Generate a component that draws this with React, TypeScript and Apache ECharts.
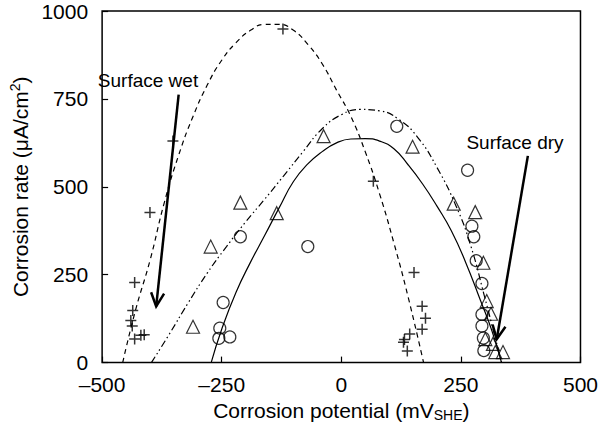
import React, { useEffect, useRef } from "react";
import * as echarts from "echarts";

// "+" markers (wet-side data)
const wetPotential = [-400, -432, -436, -440, -437, -432, -419, -412, -352, -122, 67, 152, 169, 176, 169, 143, 132, 130, 138];
const wetRate = [427, 228, 148, 120, 104, 67, 78, 79, 630, 949, 516, 256, 160, 126, 95, 81, 66, 58, 33];

// triangle markers
const triPotential = [-310, -273, -211, -135, -37, 149, 235, 280, 297, 304, 313, 301, 317, 322, 338];
const triRate = [102, 330, 455, 425, 644, 614, 452, 428, 284, 175, 139, 67, 53, 30, 30];

// circle markers
const cirPotential = [-256, -254, -233, -247, -211, -70, 116, 264, 273, 277, 282, 294, 294, 294, 297, 298];
const cirRate = [69, 98, 73, 171, 358, 330, 672, 547, 388, 358, 290, 225, 137, 104, 70, 34];

// fitted curves
const dashedX = [-457, -430, -400, -370, -340, -310, -280, -250, -220, -190, -160, -130, -100, -70, -40, -10, 20, 50, 80, 110, 140, 172];
const dashedY = [0, 150, 290, 455, 590, 700, 790, 860, 910, 945, 962, 962, 945, 905, 850, 775, 700, 600, 480, 340, 185, 0];

const dashDotX = [-397, -360, -320, -280, -240, -200, -160, -120, -80, -40, 0, 40, 80, 120, 160, 200, 240, 270, 300, 320, 335];
const dashDotY = [0, 80, 170, 255, 330, 400, 465, 532, 600, 665, 705, 720, 716, 692, 640, 555, 445, 335, 185, 80, 0];

const solidX = [-272, -250, -220, -190, -160, -130, -100, -70, -40, -10, 20, 50, 80, 110, 140, 170, 200, 230, 260, 290, 315, 335];
const solidY = [0, 95, 200, 285, 362, 440, 515, 565, 600, 625, 636, 637, 630, 608, 562, 508, 445, 375, 285, 180, 90, 0];

// arrows: [fromX, fromY, toX, toY]
const arrowWet = [-340, 762, -387, 160];
const arrowDry = [390, 588, 325, 67];

const xTicks = [-500, -250, 0, 250, 500];
const yTicks = [0, 250, 500, 750, 1000];

const FONT = "Liberation Sans, Arial, Helvetica, sans-serif";
const FS = 21;

const zip = (xs: number[], ys: number[]) => xs.map((x, i) => [x, ys[i]]);

export default function App() {
  const ref = useRef<HTMLDivElement>(null);
  useEffect(() => {
    if (!ref.current) return;
    const chart = echarts.init(ref.current, undefined, { renderer: "svg" });
    const open = { color: "transparent", borderColor: "#000", borderWidth: 1.2 };
    chart.setOption({
      animation: false,
      backgroundColor: "#fff",
      grid: {
        left: 95,
        right: 19,
        top: 11,
        bottom: 58,
        show: true,
        borderColor: "#000",
        borderWidth: 1.5,
        backgroundColor: "transparent",
      },
      xAxis: {
        type: "value",
        min: xTicks[0],
        max: xTicks[xTicks.length - 1],
        interval: 250,
        axisLine: { show: false, onZero: false },
        axisTick: { show: true, inside: true, length: 6, lineStyle: { color: "#000", width: 1.2 } },
        splitLine: { show: false },
        axisLabel: {
          color: "#000",
          fontSize: FS,
          fontFamily: FONT,
          margin: 11,
          formatter: (v: number) => (v < 0 ? "\u2013" + Math.abs(v) : String(v)),
        },
        name: "{a|Corrosion potential (mV}{sub|SHE}{a|)}",
        nameLocation: "middle",
        nameGap: 35,
        nameTextStyle: {
          color: "#000",
          fontFamily: FONT,
          fontSize: FS,
          rich: {
            a: { fontSize: FS, fontFamily: FONT, color: "#000", lineHeight: 24, verticalAlign: "middle" },
            sub: { fontSize: 14, fontFamily: FONT, color: "#000", lineHeight: 24, verticalAlign: "bottom" },
          },
        },
      },
      yAxis: {
        type: "value",
        min: yTicks[0],
        max: yTicks[yTicks.length - 1],
        interval: 250,
        axisLine: { show: false, onZero: false },
        axisTick: { show: true, inside: true, length: 6, lineStyle: { color: "#000", width: 1.2 } },
        splitLine: { show: false },
        axisLabel: { color: "#000", fontSize: FS, fontFamily: FONT, margin: 14, formatter: (v: number) => String(v) },
        name: "{a|Corrosion rate (\u03bcA/cm}{sup|2}{a|)}",
        nameLocation: "middle",
        nameGap: 62,
        nameTextStyle: {
          color: "#000",
          fontFamily: FONT,
          fontSize: FS,
          rich: {
            a: { fontSize: FS, fontFamily: FONT, color: "#000", lineHeight: 24, verticalAlign: "middle" },
            sup: { fontSize: 14, fontFamily: FONT, color: "#000", lineHeight: 24, verticalAlign: "top" },
          },
        },
      },
      graphic: [
        {
          type: "text",
          x: 148,
          y: 80,
          style: { text: "Surface wet", fontSize: 19, fontFamily: FONT, fill: "#000", align: "center", verticalAlign: "middle" },
        },
        {
          type: "text",
          x: 515,
          y: 142,
          style: { text: "Surface dry", fontSize: 19, fontFamily: FONT, fill: "#000", align: "center", verticalAlign: "middle" },
        },
      ],
      series: [
        {
          type: "line",
          data: zip(dashedX, dashedY),
          smooth: 0.5,
          showSymbol: false,
          lineStyle: { color: "#000", width: 1.2, type: [5, 4] },
          silent: true,
        },
        {
          type: "line",
          data: zip(dashDotX, dashDotY),
          smooth: 0.5,
          showSymbol: false,
          lineStyle: { color: "#000", width: 1.2, type: [7, 3, 1.5, 3, 1.5, 3] },
          silent: true,
        },
        {
          type: "line",
          data: zip(solidX, solidY),
          smooth: 0.5,
          showSymbol: false,
          lineStyle: { color: "#000", width: 1.2 },
          silent: true,
        },
        {
          type: "scatter",
          data: zip(wetPotential, wetRate),
          symbol: "path://M5,0 L5,10 M0,5 L10,5",
          symbolSize: 11,
          itemStyle: { color: "transparent", borderColor: "#000", borderWidth: 1.5 },
        },
        {
          type: "scatter",
          data: zip(triPotential, triRate),
          symbol: "triangle",
          symbolSize: 13,
          itemStyle: open,
        },
        {
          type: "scatter",
          data: zip(cirPotential, cirRate),
          symbol: "circle",
          symbolSize: 12,
          itemStyle: open,
        },
        {
          type: "custom",
          data: [arrowWet, arrowDry],
          silent: true,
          renderItem: (_params: any, api: any) => {
            const p1 = api.coord([api.value(0), api.value(1)]);
            const p2 = api.coord([api.value(2), api.value(3)]);
            const ang = Math.atan2(p2[1] - p1[1], p2[0] - p1[0]);
            const L = 15;
            const a = 0.45;
            const h1 = [p2[0] - L * Math.cos(ang - a), p2[1] - L * Math.sin(ang - a)];
            const h2 = [p2[0] - L * Math.cos(ang + a), p2[1] - L * Math.sin(ang + a)];
            return {
              type: "group",
              children: [
                { type: "line", shape: { x1: p1[0], y1: p1[1], x2: p2[0], y2: p2[1] }, style: { stroke: "#000", lineWidth: 2.5 } },
                { type: "polyline", shape: { points: [h1, p2, h2] }, style: { stroke: "#000", lineWidth: 2.5, fill: "none" } },
              ],
            };
          },
        },
      ],
    });
    return () => chart.dispose();
  }, []);
  return <div ref={ref} style={{ width: 601, height: 427, position: "absolute", left: 0, top: 0 }} />;
}
